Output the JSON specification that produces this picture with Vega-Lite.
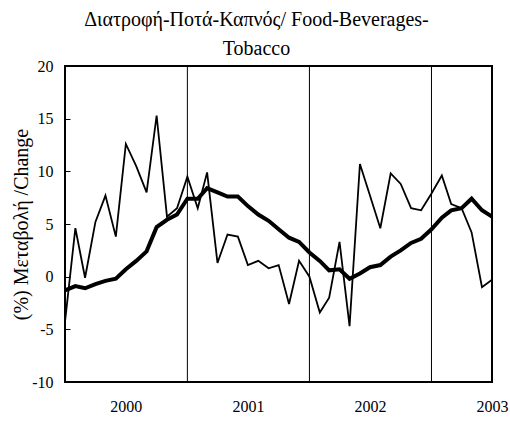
{
  "$schema": "https://vega.github.io/schema/vega-lite/v6.json",
  "autosize": {"type": "none"},
  "width": 427,
  "height": 316,
  "padding": {"left": 65, "top": 66, "right": 18, "bottom": 41},
  "background": "white",
  "config": {
    "view": {"stroke": "black", "strokeWidth": 2},
    "font": "Liberation Serif"
  },
  "title": {
    "text": ["Διατροφή-Ποτά-Καπνός/ Food-Beverages-", "Tobacco"],
    "font": "Liberation Serif",
    "fontSize": 20,
    "fontWeight": "normal",
    "color": "black",
    "lineHeight": 29,
    "anchor": "middle",
    "dx": -22,
    "offset": -1
  },
  "datasets": {
    "series": [
      {"month": "2000-01-01", "monthly": -4.3, "avg": -1.3},
      {"month": "2000-02-01", "monthly": 4.6, "avg": -0.9},
      {"month": "2000-03-01", "monthly": -0.1, "avg": -1.1},
      {"month": "2000-04-01", "monthly": 5.2, "avg": -0.7},
      {"month": "2000-05-01", "monthly": 7.7, "avg": -0.4},
      {"month": "2000-06-01", "monthly": 3.8, "avg": -0.2},
      {"month": "2000-07-01", "monthly": 12.6, "avg": 0.7},
      {"month": "2000-08-01", "monthly": 10.5, "avg": 1.5},
      {"month": "2000-09-01", "monthly": 8.0, "avg": 2.4},
      {"month": "2000-10-01", "monthly": 15.3, "avg": 4.7},
      {"month": "2000-11-01", "monthly": 5.7, "avg": 5.4},
      {"month": "2000-12-01", "monthly": 6.5, "avg": 5.9},
      {"month": "2001-01-01", "monthly": 9.5, "avg": 7.4},
      {"month": "2001-02-01", "monthly": 6.5, "avg": 7.4},
      {"month": "2001-03-01", "monthly": 9.9, "avg": 8.4},
      {"month": "2001-04-01", "monthly": 1.3, "avg": 8.0},
      {"month": "2001-05-01", "monthly": 4.0, "avg": 7.6},
      {"month": "2001-06-01", "monthly": 3.8, "avg": 7.6},
      {"month": "2001-07-01", "monthly": 1.1, "avg": 6.7},
      {"month": "2001-08-01", "monthly": 1.5, "avg": 5.9},
      {"month": "2001-09-01", "monthly": 0.8, "avg": 5.3},
      {"month": "2001-10-01", "monthly": 1.1, "avg": 4.5},
      {"month": "2001-11-01", "monthly": -2.6, "avg": 3.7},
      {"month": "2001-12-01", "monthly": 1.5, "avg": 3.3},
      {"month": "2002-01-01", "monthly": 0.0, "avg": 2.3},
      {"month": "2002-02-01", "monthly": -3.4, "avg": 1.5},
      {"month": "2002-03-01", "monthly": -2.0, "avg": 0.6},
      {"month": "2002-04-01", "monthly": 3.3, "avg": 0.7},
      {"month": "2002-05-01", "monthly": -4.7, "avg": -0.2},
      {"month": "2002-06-01", "monthly": 10.7, "avg": 0.3},
      {"month": "2002-07-01", "monthly": 7.7, "avg": 0.9},
      {"month": "2002-08-01", "monthly": 4.6, "avg": 1.1},
      {"month": "2002-09-01", "monthly": 9.8, "avg": 1.9},
      {"month": "2002-10-01", "monthly": 8.8, "avg": 2.5},
      {"month": "2002-11-01", "monthly": 6.5, "avg": 3.2},
      {"month": "2002-12-01", "monthly": 6.3, "avg": 3.6},
      {"month": "2003-01-01", "monthly": 7.9, "avg": 4.5},
      {"month": "2003-02-01", "monthly": 9.6, "avg": 5.6},
      {"month": "2003-03-01", "monthly": 6.9, "avg": 6.3},
      {"month": "2003-04-01", "monthly": 6.5, "avg": 6.5},
      {"month": "2003-05-01", "monthly": 4.2, "avg": 7.4},
      {"month": "2003-06-01", "monthly": -1.0, "avg": 6.3},
      {"month": "2003-07-01", "monthly": -0.3, "avg": 5.7}
    ],
    "years": [
      {"month": "2001-01-01"},
      {"month": "2002-01-01"},
      {"month": "2003-01-01"}
    ]
  },
  "layer": [
    {
      "data": {"name": "years"},
      "mark": {"type": "rule", "color": "black", "strokeWidth": 1},
      "encoding": {
        "x": {
          "field": "month",
          "type": "temporal",
          "scale": {"type": "utc", "domain": [{"year": 2000, "month": 1, "date": 1, "utc": true}, {"year": 2003, "month": 7, "date": 1, "utc": true}]},
          "axis": {
            "title": null,
            "values": [
              {"year": 2000, "month": 7, "date": 1, "utc": true},
              {"year": 2001, "month": 7, "date": 1, "utc": true},
              {"year": 2002, "month": 7, "date": 1, "utc": true},
              {"year": 2003, "month": 7, "date": 1, "utc": true}
            ],
            "labelExpr": "utcFormat(datum.value, '%Y')",
            "grid": false,
            "ticks": false,
            "domain": false,
            "labelFont": "Liberation Serif",
            "labelFontSize": 16,
            "labelColor": "black",
            "labelPadding": 16,
            "labelFlush": false,
            "labelOverlap": false
          }
        }
      }
    },
    {
      "mark": {"type": "rule", "color": "black", "strokeWidth": 1},
      "encoding": {
        "y": {
          "datum": 0,
          "type": "quantitative",
          "scale": {"domain": [-10, 20], "nice": false},
          "axis": {
            "title": "(%) Μεταβολή /Change",
            "titleFont": "Liberation Serif",
            "titleFontSize": 20,
            "titleFontWeight": "normal",
            "titleColor": "black",
            "titleX": -44,
            "titleY": 158,
            "titleAngle": -90,
            "titleBaseline": "middle",
            "titleAlign": "center",
            "values": [-10, -5, 0, 5, 10, 15, 20],
            "labelExpr": "'' + datum.value",
            "grid": false,
            "domain": false,
            "ticks": true,
            "tickSize": -5,
            "tickColor": "black",
            "labelFont": "Liberation Serif",
            "labelFontSize": 16,
            "labelColor": "black",
            "labelPadding": 17
          }
        }
      }
    },
    {
      "data": {"name": "series"},
      "mark": {"type": "line", "color": "black", "strokeWidth": 1.8, "strokeJoin": "miter"},
      "encoding": {
        "x": {"field": "month", "type": "temporal"},
        "y": {"field": "monthly", "type": "quantitative"}
      }
    },
    {
      "data": {"name": "series"},
      "mark": {"type": "line", "color": "black", "strokeWidth": 4},
      "encoding": {
        "x": {"field": "month", "type": "temporal"},
        "y": {"field": "avg", "type": "quantitative"}
      }
    }
  ]
}
